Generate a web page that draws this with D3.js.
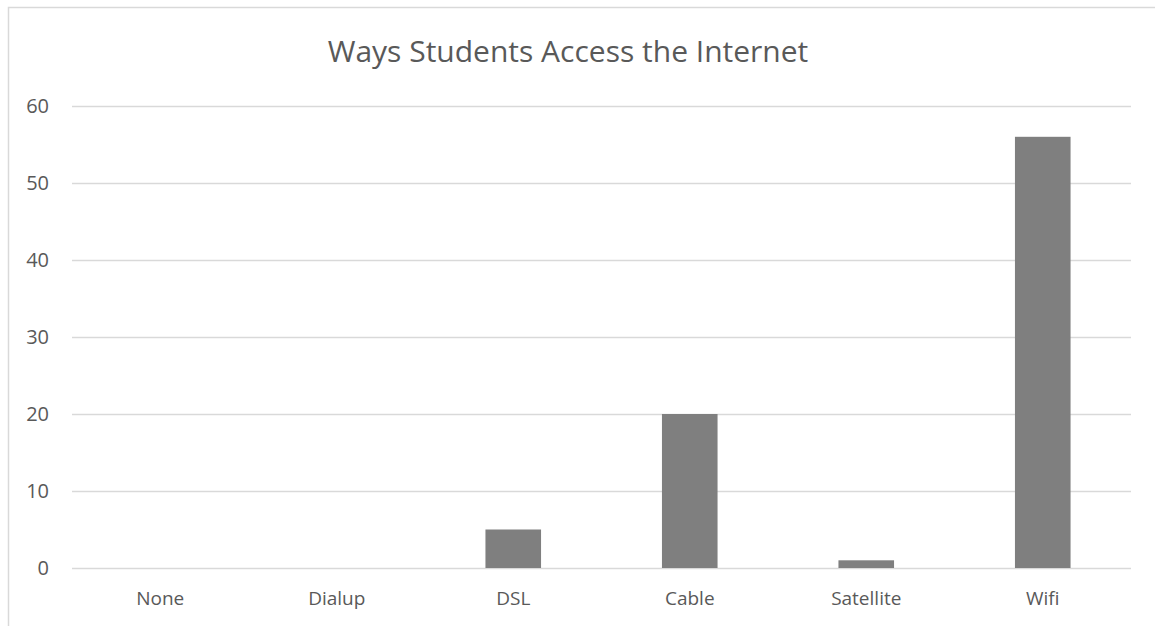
<!DOCTYPE html>
<html>
<head>
<meta charset="utf-8">
<script src="https://cdn.jsdelivr.net/npm/d3@7"></script>
<style>
  body { margin: 0; background: #fff; }
  text { font-family: "Open Sans", sans-serif; fill: #595959; }
</style>
</head>
<body>
<svg id="chart" width="1155" height="626"></svg>
<script>
// data
const categories = ["None", "Dialup", "DSL", "Cable", "Satellite", "Wifi"];
const counts = [0, 0, 5, 20, 1, 56];
const yTicks = [0, 10, 20, 30, 40, 50, 60];
const title = "Ways Students Access the Internet";

const width = 1155, height = 626;
const margin = { top: 106, right: 24, bottom: 58, left: 72 };
const innerWidth = width - margin.left - margin.right;
const innerHeight = height - margin.top - margin.bottom;

const svg = d3.select("#chart");

// chart border (only left and top edges are visible)
svg.append("path")
  .attr("d", "M8.5,626 V7.5 H1155")
  .attr("fill", "none")
  .attr("stroke", "#d9d9d9")
  .attr("stroke-width", 1.5);

svg.append("text")
  .attr("x", 568).attr("y", 62)
  .attr("text-anchor", "middle")
  .attr("font-size", "30px")
  .text(title);

const g = svg.append("g")
  .attr("transform", `translate(${margin.left},${margin.top})`);

const x = d3.scaleBand()
  .domain(categories)
  .range([0, innerWidth])
  .paddingInner(0.685)
  .paddingOuter(0.3425);

const y = d3.scaleLinear()
  .domain([0, 60])
  .range([innerHeight, 0]);

// grid lines
g.append("g")
  .call(d3.axisLeft(y).tickValues(yTicks).tickSize(-innerWidth).tickFormat(""))
  .call((s) => s.select(".domain").remove())
  .call((s) => s.selectAll("text").remove())
  .call((s) => s.selectAll("line").attr("stroke", "#d9d9d9").attr("stroke-width", 1.3));

// y labels
g.append("g")
  .attr("transform", "translate(-23,0)")
  .call(d3.axisLeft(y).tickValues(yTicks).tickSize(0).tickPadding(0))
  .call((s) => s.select(".domain").remove())
  .call((s) => s.selectAll("text").attr("font-size", "20px").attr("fill", "#595959")
    .style("font-family", "'Open Sans', sans-serif"));

// bars
g.selectAll(".bar")
  .data(categories)
  .join("rect")
  .attr("class", "bar")
  .attr("x", (d) => x(d))
  .attr("width", x.bandwidth())
  .attr("y", (d, i) => y(counts[i]))
  .attr("height", (d, i) => innerHeight - y(counts[i]))
  .attr("fill", "#7f7f7f");

// x labels
const xBand = d3.scaleBand().domain(categories).range([0, innerWidth]);
g.append("g")
  .attr("transform", `translate(0,${innerHeight})`)
  .call(d3.axisBottom(xBand).tickSize(0).tickPadding(24))
  .call((s) => s.select(".domain").remove())
  .call((s) => s.selectAll("text").attr("font-size", "19px").attr("fill", "#595959")
    .style("font-family", "'Open Sans', sans-serif"));
</script>
</body>
</html>
